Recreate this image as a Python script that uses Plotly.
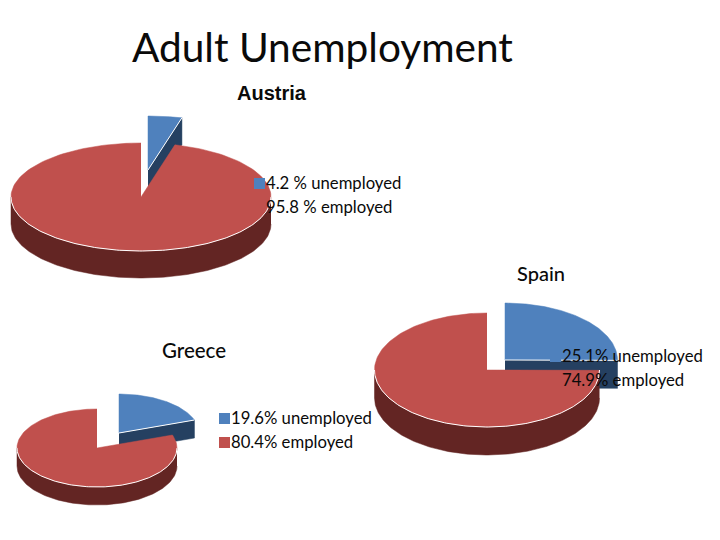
import numpy as np
import plotly.graph_objects as go

countries = ["Austria", "Greece", "Spain"]
unemployed = [4.2, 19.6, 25.1]
employed = [95.8, 80.4, 74.9]
legend_unemployed = ["4.2 % unemployed", "19.6% unemployed", "25.1% unemployed"]
legend_employed = ["95.8 % employed", "80.4% employed", "74.9% employed"]

# geometry of each drawn pie, in page pixels
centers = [(141, 197), (97, 448), (487, 370)]
blue_apex = [(148, 170), (119, 433), (505, 360)]
radii_x = [130, 80, 112.5]
radii_y = [54, 39, 57]
depths = [27, 18, 28]
legend_x = [266, 231, 562]
legend_y = [183, 418, 356]
legend_dy = [24, 24, 24]

BLUE, RED, DBLUE, DRED = "#4F81BD", "#C0504D", "#254061", "#632523"
BODY = "Lato, Carlito, sans-serif"
INK = "#0a0a0a"


def arc(c, rx, ry, a0, a1, dy=0):
    t = np.radians(np.linspace(a0, a1, 160))
    return c[0] + rx * np.sin(t), c[1] - ry * np.cos(t) + dy


def poly(x, y, color):
    return go.Scatter(x=x, y=y, mode="lines", fill="toself", fillcolor=color,
                      line=dict(color=color, width=0.5), hoverinfo="skip", showlegend=False)


def line(x, y, color="white", width=1):
    return go.Scatter(x=x, y=y, mode="lines", line=dict(color=color, width=width),
                      hoverinfo="skip", showlegend=False)


fig = go.Figure()
for i in range(3):
    c, b, rx, ry, d = centers[i], blue_apex[i], radii_x[i], radii_y[i], depths[i]
    ang = unemployed[i] / 100 * 360
    # exploded slice: cut face below, then top
    ex, ey = arc(b, rx, ry, ang, ang)
    fig.add_trace(poly([b[0], ex[-1], ex[-1], b[0]], [b[1], ey[-1], ey[-1] + d, b[1] + d], DBLUE))
    ax, ay = arc(b, rx, ry, 0, ang)
    fig.add_trace(poly(np.r_[b[0], ax], np.r_[b[1], ay], BLUE))
    fig.add_trace(line([b[0], ex[-1]], [b[1], ey[-1]]))
    # main slice: rim below, then top
    fx, fy = arc(c, rx, ry, 90, 270)
    gx, gy = arc(c, rx, ry, 270, 90, d)
    fig.add_trace(poly(np.r_[fx, gx], np.r_[fy, gy], DRED))
    rx_, ry_ = arc(c, rx, ry, ang, 360)
    fig.add_trace(poly(np.r_[c[0], rx_], np.r_[c[1], ry_], RED))
    fig.add_trace(line(fx, fy))

shapes, annotations = [], []
for i in range(3):
    for k, (txt, col) in enumerate([(legend_unemployed[i], BLUE), (legend_employed[i], RED)]):
        yy = legend_y[i] + k * legend_dy[i]
        shapes.append(dict(type="rect", xref="x", yref="y", x0=legend_x[i] - 12, x1=legend_x[i] - 1,
                           y0=yy - 5, y1=yy + 6, fillcolor=col, line_width=0, layer="above"))
        annotations.append(dict(x=legend_x[i] - 2, y=yy - 0.5, text=txt, xref="x", yref="y", xanchor="left",
                                yanchor="middle", showarrow=False,
                                font=dict(family=BODY, size=16.7, color=INK)))

annotations += [
    dict(x=130, y=46, text="Adult Unemployment", xref="x", yref="y", xanchor="left", yanchor="middle",
         showarrow=False, font=dict(family=BODY, size=40.6, color=INK)),
    dict(x=235, y=93, text=countries[0], xref="x", yref="y", xanchor="left", yanchor="middle",
         showarrow=False, font=dict(family="Liberation Sans", size=20, color=INK, weight="bold")),
    dict(x=160, y=350, text=countries[1], xref="x", yref="y", xanchor="left", yanchor="middle",
         showarrow=False, font=dict(family=BODY, size=20.5, color=INK, weight=500)),
    dict(x=515, y=273, text=countries[2], xref="x", yref="y", xanchor="left", yanchor="middle",
         showarrow=False, font=dict(family=BODY, size=20, color=INK, weight=500)),
]

fig.update_layout(
    width=720, height=540, margin=dict(l=0, r=0, t=0, b=0),
    paper_bgcolor="white", plot_bgcolor="white", showlegend=False,
    xaxis=dict(range=[0, 720], visible=False, fixedrange=True),
    yaxis=dict(range=[540, 0], visible=False, fixedrange=True),
    shapes=shapes, annotations=annotations,
)
fig.write_html("out.html", config={"displayModeBar": False},
               post_script="document.body.style.margin='0';document.body.style.overflow='hidden';")
